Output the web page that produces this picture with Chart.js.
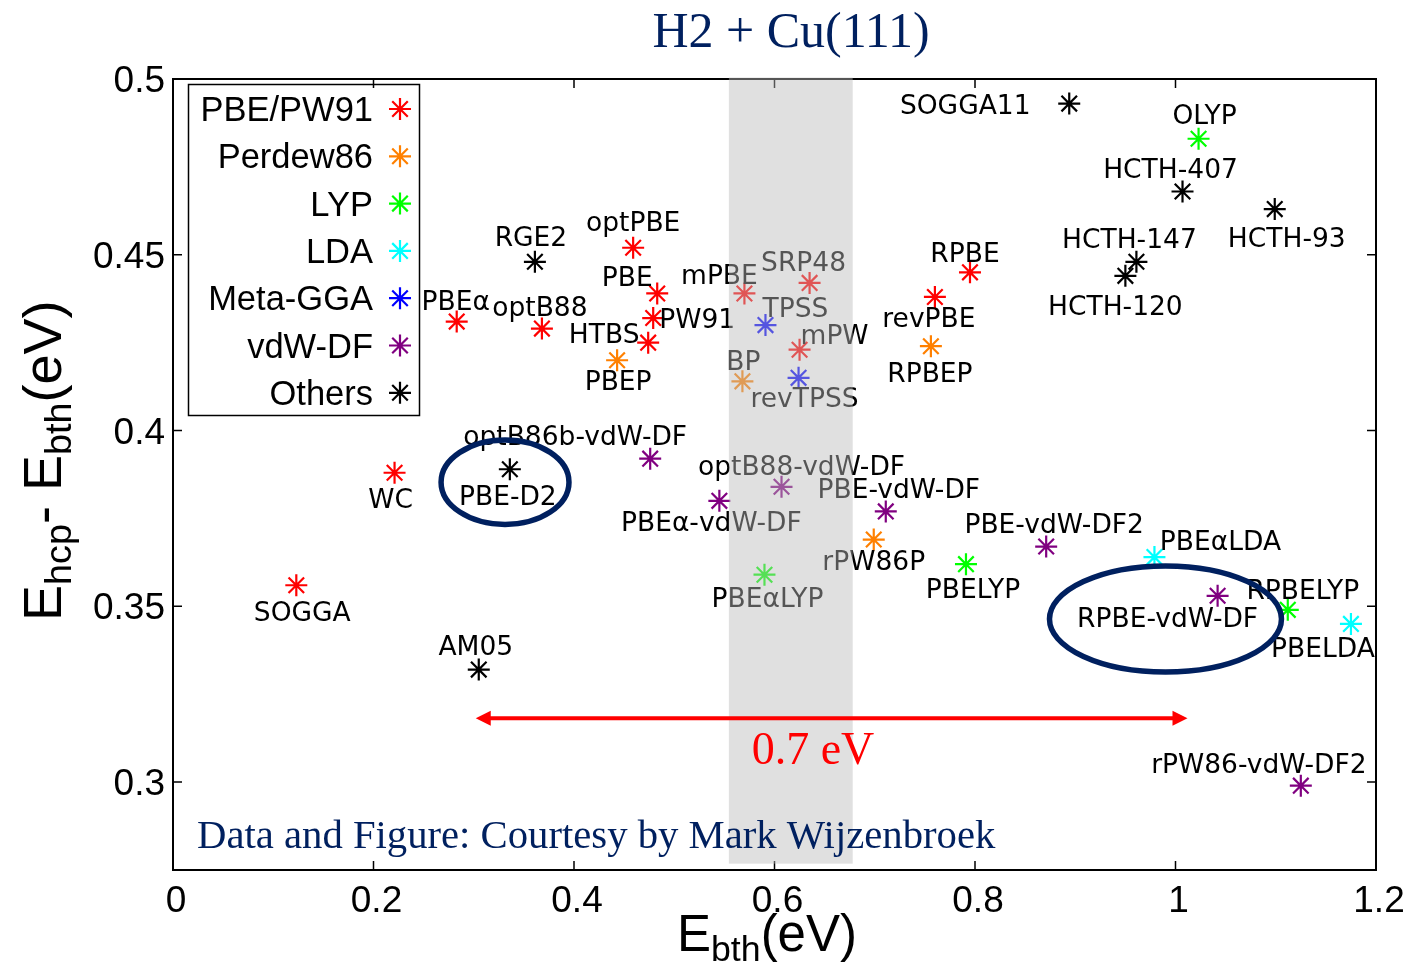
<!DOCTYPE html>
<html>
<head>
<meta charset="utf-8">
<script src="https://cdn.jsdelivr.net/npm/chart.js@4/dist/chart.umd.min.js"></script>
<style>
html, body { margin: 0; padding: 0; background: #ffffff; }
canvas { display: block; }
</style>
</head>
<body>
<canvas id="chart" width="1410" height="962" style="width:1410px;height:962px"></canvas>
<script>
// Exchange-correlation families and their marker colours
const familyNames  = ['PBE/PW91', 'Perdew86', 'LYP', 'LDA', 'Meta-GGA', 'vdW-DF', 'Others'];
const familyColors = ['#ff0000', '#ff8000', '#00ff00', '#00ffff', '#0000ff', '#800080', '#000000'];

// E_bth (eV) and E_hcp - E_bth (eV) per functional
const pbeNames = ['PBEα', 'optB88', 'optPBE', 'PBE', 'PW91', 'HTBS', 'RPBE', 'revPBE', 'WC', 'SOGGA', 'mPBE', 'SRP48', 'mPW'];
const pbeEbth  = [0.283, 0.368, 0.459, 0.483, 0.479, 0.474, 0.795, 0.760, 0.221, 0.123, 0.570, 0.635, 0.625];
const pbeDiff  = [0.431, 0.429, 0.452, 0.439, 0.432, 0.425, 0.445, 0.438, 0.388, 0.356, 0.439, 0.442, 0.423];

const p86Names = ['PBEP', 'BP', 'RPBEP', 'rPW86P'];
const p86Ebth  = [0.443, 0.568, 0.756, 0.699];
const p86Diff  = [0.420, 0.414, 0.424, 0.369];

const lypNames = ['OLYP', 'PBEαLYP', 'PBELYP', 'RPBELYP'];
const lypEbth  = [1.023, 0.590, 0.791, 1.112];
const lypDiff  = [0.483, 0.359, 0.362, 0.349];

const ldaNames = ['PBEαLDA', 'PBELDA'];
const ldaEbth  = [0.979, 1.175];
const ldaDiff  = [0.364, 0.345];

const mggaNames = ['TPSS', 'revTPSS'];
const mggaEbth  = [0.591, 0.624];
const mggaDiff  = [0.430, 0.415];

const vdwNames = ['optB86b-vdW-DF', 'optB88-vdW-DF', 'PBEα-vdW-DF', 'PBE-vdW-DF', 'PBE-vdW-DF2', 'RPBE-vdW-DF', 'rPW86-vdW-DF2'];
const vdwEbth  = [0.476, 0.607, 0.545, 0.711, 0.871, 1.042, 1.125];
const vdwDiff  = [0.392, 0.384, 0.380, 0.377, 0.367, 0.353, 0.299];

const otherNames = ['SOGGA11', 'HCTH-407', 'HCTH-93', 'HCTH-147', 'HCTH-120', 'RGE2', 'PBE-D2', 'AM05'];
const otherEbth  = [0.894, 1.007, 1.099, 0.961, 0.950, 0.361, 0.336, 0.305];
const otherDiff  = [0.493, 0.468, 0.463, 0.448, 0.444, 0.448, 0.389, 0.332];

// Axis ticks
const xTicks = [0, 0.2, 0.4, 0.6, 0.8, 1, 1.2];
const xTickLabels = ['0', '0.2', '0.4', '0.6', '0.8', '1', '1.2'];
const yTicks = [0.3, 0.35, 0.4, 0.45, 0.5];
const yTickLabels = ['0.3', '0.35', '0.4', '0.45', '0.5'];

// Highlighted window of E_bth (shaded band) and the spread arrow
const bandRange = [0.5545, 0.678];
const spreadRange = [0.302, 1.012];
const spreadLevel = 0.3182;
const spreadText = '0.7 eV';
const circled = [
  { x: 0.3312, y: 0.3853, rx: 0.0638, ry: 0.0120 },
  { x: 0.9900, y: 0.3464, rx: 0.1157, ry: 0.0151 }
];
const titleText = 'H2 + Cu(111)';
const creditText = 'Data and Figure: Courtesy by Mark Wijzenbroek';

// Label placement around each marker (pixel offsets of label centre)
const labelOffsets = {
  'PBEα': [-1, -21], 'optB88': [-2, -22], 'optPBE': [0, -26], 'PBE': [-30, -17],
  'PW91': [44, 0], 'HTBS': [-44, -9], 'RPBE': [-5, -20], 'revPBE': [-6, 21],
  'WC': [-4, 26], 'SOGGA': [6, 26], 'mPBE': [-25, -19], 'SRP48': [-6, -21], 'mPW': [35, -15],
  'PBEP': [1, 20], 'BP': [1, -21], 'RPBEP': [-1, 26], 'rPW86P': [0, 21],
  'OLYP': [6, -24], 'PBEαLYP': [3, 23], 'PBELYP': [7, 24], 'RPBELYP': [15, -20],
  'PBEαLDA': [66, -17], 'PBELDA': [-28, 24],
  'TPSS': [30, -18], 'revTPSS': [6, 20],
  'optB86b-vdW-DF': [-75, -23], 'optB88-vdW-DF': [20, -21], 'PBEα-vdW-DF': [-8, 21],
  'PBE-vdW-DF': [13, -23], 'PBE-vdW-DF2': [8, -23], 'RPBE-vdW-DF': [-50, 22], 'rPW86-vdW-DF2': [-42, -22],
  'SOGGA11': [-104, 1], 'HCTH-407': [-12, -23], 'HCTH-93': [12, 28], 'HCTH-147': [-7, -23],
  'HCTH-120': [-10, 30], 'RGE2': [-4, -25], 'PBE-D2': [-2, 26], 'AM05': [-3, -24]
};

const NAVY = '#00205f';

function toPoints(names, xs, ys) {
  return names.map((n, i) => ({ x: xs[i], y: ys[i], name: n }));
}

const groups = [
  toPoints(pbeNames, pbeEbth, pbeDiff),
  toPoints(p86Names, p86Ebth, p86Diff),
  toPoints(lypNames, lypEbth, lypDiff),
  toPoints(ldaNames, ldaEbth, ldaDiff),
  toPoints(mggaNames, mggaEbth, mggaDiff),
  toPoints(vdwNames, vdwEbth, vdwDiff),
  toPoints(otherNames, otherEbth, otherDiff)
];

const datasets = groups.map((pts, i) => ({
  label: familyNames[i],
  data: pts,
  pointStyle: 'star',
  pointRadius: 11,
  pointHoverRadius: 11,
  pointBorderWidth: 2.2,
  borderColor: familyColors[i],
  backgroundColor: 'rgba(0,0,0,0)',
  showLine: false
}));

function star(ctx, x, y, r) {
  const d = r * Math.SQRT1_2;
  ctx.beginPath();
  ctx.moveTo(x - r, y); ctx.lineTo(x + r, y);
  ctx.moveTo(x, y - r); ctx.lineTo(x, y + r);
  ctx.moveTo(x - d, y - d); ctx.lineTo(x + d, y + d);
  ctx.moveTo(x - d, y + d); ctx.lineTo(x + d, y - d);
  ctx.stroke();
}

// Text with a subscript part, drawn from the current origin along +x
function subText(ctx, parts, x, y, big) {
  let cx = x;
  parts.forEach(p => {
    ctx.font = p.sub ? (big * 0.7).toFixed(1) + 'px "Liberation Sans"' : big + 'px "Liberation Sans"';
    ctx.fillText(p.t, cx, y + (p.sub ? 10 : 0));
    cx += ctx.measureText(p.t).width;
  });
}

const decorations = {
  id: 'decorations',
  afterDatasetsDraw(chart) {
    const ctx = chart.ctx;
    const xs = chart.scales.x, ys = chart.scales.y;
    const area = chart.chartArea;

    ctx.save();
    // point labels
    ctx.fillStyle = '#000';
    ctx.font = '26.5px "DejaVu Sans"';
    ctx.textAlign = 'center';
    ctx.textBaseline = 'alphabetic';
    chart.data.datasets.forEach((ds, di) => {
      const meta = chart.getDatasetMeta(di);
      meta.data.forEach((el, j) => {
        const name = ds.data[j].name;
        const off = labelOffsets[name] || [0, -22];
        ctx.fillText(name, el.x + off[0], el.y + off[1] + 9.5);
      });
    });

    // frame
    ctx.strokeStyle = '#000';
    ctx.lineWidth = 2;
    ctx.strokeRect(area.left, area.top, area.right - area.left, area.bottom - area.top);

    // inward ticks and tick labels
    ctx.lineWidth = 1.5;
    ctx.font = '37px "Liberation Sans"';
    ctx.fillStyle = '#000';
    ctx.textAlign = 'center';
    xTicks.forEach((v, i) => {
      const px = xs.getPixelForValue(v);
      ctx.beginPath();
      ctx.moveTo(px, area.bottom); ctx.lineTo(px, area.bottom - 9);
      ctx.moveTo(px, area.top); ctx.lineTo(px, area.top + 9);
      ctx.stroke();
      ctx.fillText(xTickLabels[i], px + 3, area.bottom + 42);
    });
    ctx.textAlign = 'right';
    yTicks.forEach((v, i) => {
      const py = ys.getPixelForValue(v);
      ctx.beginPath();
      ctx.moveTo(area.left, py); ctx.lineTo(area.left + 9, py);
      ctx.moveTo(area.right, py); ctx.lineTo(area.right - 9, py);
      ctx.stroke();
      ctx.fillText(yTickLabels[i], 165, py + 13);
    });

    // shaded window laid over markers and labels
    const bx0 = xs.getPixelForValue(bandRange[0]);
    const bx1 = xs.getPixelForValue(bandRange[1]);
    const by0 = ys.getPixelForValue(0.5) - 1.5;
    const by1 = ys.getPixelForValue(0.2768);
    ctx.fillStyle = 'rgba(187,187,187,0.455)';
    ctx.fillRect(bx0, by0, bx1 - bx0, by1 - by0);

    // spread arrow
    const ax0 = xs.getPixelForValue(spreadRange[0]);
    const ax1 = xs.getPixelForValue(spreadRange[1]);
    const ay = ys.getPixelForValue(spreadLevel);
    ctx.strokeStyle = '#ff0000';
    ctx.fillStyle = '#ff0000';
    ctx.lineWidth = 4;
    ctx.beginPath();
    ctx.moveTo(ax0 + 10, ay); ctx.lineTo(ax1 - 10, ay);
    ctx.stroke();
    ctx.beginPath();
    ctx.moveTo(ax0, ay); ctx.lineTo(ax0 + 15, ay - 7.5); ctx.lineTo(ax0 + 15, ay + 7.5); ctx.closePath();
    ctx.fill();
    ctx.beginPath();
    ctx.moveTo(ax1, ay); ctx.lineTo(ax1 - 15, ay - 7.5); ctx.lineTo(ax1 - 15, ay + 7.5); ctx.closePath();
    ctx.fill();
    ctx.font = '46px "Liberation Serif"';
    ctx.textAlign = 'center';
    ctx.fillText(spreadText, 813, 764);

    // circled functionals
    ctx.strokeStyle = NAVY;
    ctx.lineWidth = 5.5;
    circled.forEach(c => {
      const cx = xs.getPixelForValue(c.x), cy = ys.getPixelForValue(c.y);
      const rx = xs.getPixelForValue(c.x + c.rx) - cx;
      const ry = cy - ys.getPixelForValue(c.y + c.ry);
      ctx.beginPath();
      ctx.ellipse(cx, cy, rx, ry, 0, 0, Math.PI * 2);
      ctx.stroke();
    });

    // credit line
    ctx.fillStyle = NAVY;
    ctx.textAlign = 'left';
    ctx.font = '40.7px "Liberation Serif"';
    ctx.fillText(creditText, 197, 848);

    // title
    ctx.textAlign = 'center';
    ctx.font = '50px "Liberation Serif"';
    ctx.fillText(titleText, 791, 47);

    // legend
    ctx.strokeStyle = '#000';
    ctx.lineWidth = 1.5;
    ctx.strokeRect(188.5, 84.5, 231, 331);
    ctx.font = '34.5px "Liberation Sans"';
    ctx.textAlign = 'right';
    familyNames.forEach((n, i) => {
      const ry = 109 + i * 47.3;
      ctx.fillStyle = '#000';
      ctx.fillText(n, 373, ry + 12);
      ctx.strokeStyle = familyColors[i];
      ctx.lineWidth = 2.2;
      star(ctx, 400, ry, 11);
    });

    // axis titles
    ctx.fillStyle = '#000';
    ctx.textAlign = 'left';
    subText(ctx, [{ t: 'E' }, { t: 'bth', sub: true }, { t: '(eV)' }], 677, 951, 51);
    ctx.save();
    ctx.translate(61, 621);
    ctx.rotate(-Math.PI / 2);
    subText(ctx, [{ t: 'E' }, { t: 'hcp', sub: true }, { t: '- E' }, { t: 'bth', sub: true }, { t: '(eV)' }], 0, 0, 54);
    ctx.restore();

    ctx.restore();
  }
};

new Chart(document.getElementById('chart'), {
  type: 'scatter',
  data: { datasets },
  options: {
    responsive: false,
    animation: false,
    devicePixelRatio: 1,
    layout: { padding: { left: 173, right: 34, top: 79, bottom: 92 } },
    scales: {
      x: { type: 'linear', min: 0, max: 1.2, display: false },
      y: { type: 'linear', min: 0.275, max: 0.5, display: false }
    },
    plugins: {
      legend: { display: false },
      tooltip: { enabled: false }
    },
    events: []
  },
  plugins: [decorations]
});
</script>
</body>
</html>
